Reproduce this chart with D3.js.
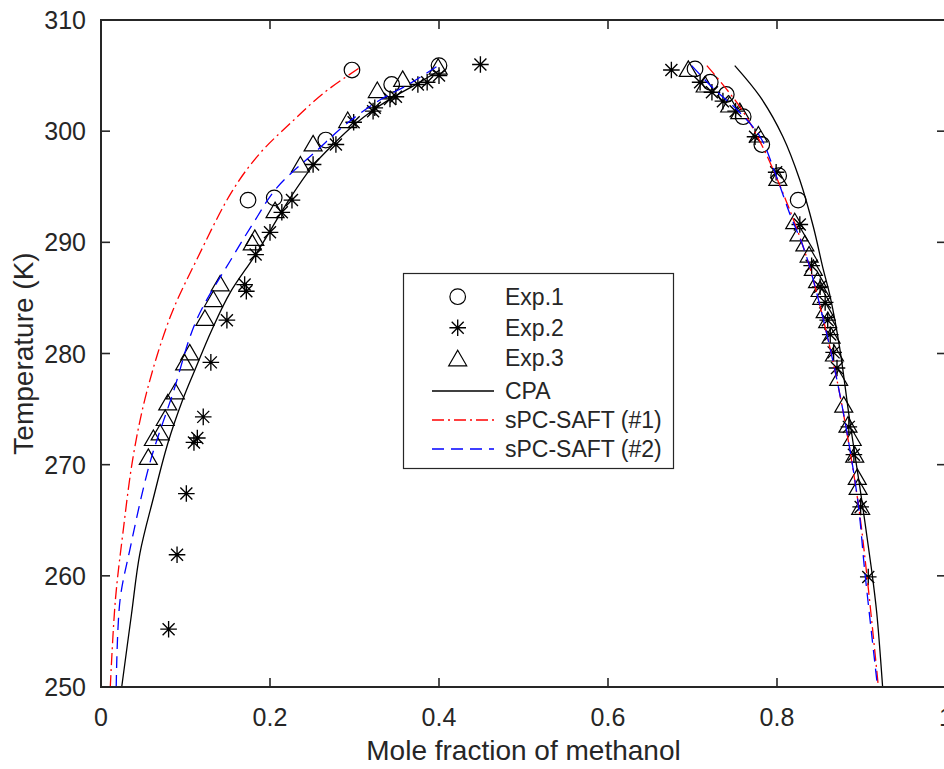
<!DOCTYPE html>
<html>
<head>
<meta charset="utf-8">
<script src="https://cdn.jsdelivr.net/npm/d3@7"></script>
<style>
  html, body { margin: 0; padding: 0; background: #fff; }
  svg { display: block; }
  text { font-family: "Liberation Sans", Arial, Helvetica, sans-serif; fill: #262626; }
</style>
</head>
<body>
<svg id="chart" width="944" height="769"></svg>
<script>
// ---------- data ----------
const xTicks = [0, 0.2, 0.4, 0.6, 0.8, 1];
const yTicks = [250, 260, 270, 280, 290, 300, 310];
const xLabel = "Mole fraction of methanol";
const yLabel = "Temperature (K)";
const legendLabels = ["Exp.1", "Exp.2", "Exp.3", "CPA", "sPC-SAFT (#1)", "sPC-SAFT (#2)"];

// Exp.1 (circles)
const exp1X = [0.297, 0.400, 0.344, 0.266, 0.174, 0.205, 0.703, 0.721, 0.740, 0.760, 0.782, 0.802, 0.825];
const exp1T = [305.5, 305.9, 304.2, 299.2, 293.8, 294.0, 305.6, 304.4, 303.3, 301.3, 298.8, 296.0, 293.8];

// Exp.2 (stars)
const exp2X = [0.449, 0.400, 0.386, 0.375, 0.349, 0.342, 0.324, 0.322, 0.299, 0.278, 0.251, 0.226, 0.214, 0.200, 0.183, 0.170, 0.172, 0.149, 0.130, 0.121, 0.114, 0.110, 0.101, 0.090, 0.080,
               0.675, 0.709, 0.723, 0.736, 0.751, 0.774, 0.799, 0.827, 0.841, 0.851, 0.857, 0.860, 0.863, 0.867, 0.871, 0.885, 0.891, 0.899, 0.908];
const exp2T = [306.0, 305.0, 304.4, 304.2, 303.1, 302.9, 302.1, 301.8, 300.8, 298.8, 297.0, 293.8, 292.7, 290.9, 288.9, 286.2, 285.6, 283.0, 279.2, 274.3, 272.4, 272.0, 267.4, 261.9, 255.2,
               305.5, 304.4, 303.5, 302.7, 301.8, 299.5, 296.3, 291.6, 287.9, 286.0, 284.6, 283.0, 281.7, 280.1, 278.7, 273.4, 270.9, 266.2, 259.9];

// Exp.3 (triangles)
const exp3X = [0.399, 0.357, 0.327, 0.292, 0.251, 0.236, 0.206, 0.182, 0.179, 0.141, 0.133, 0.123, 0.105, 0.099, 0.088, 0.079, 0.076, 0.070, 0.062, 0.056,
               0.695, 0.715, 0.744, 0.756, 0.778, 0.801, 0.821, 0.826, 0.833, 0.838, 0.843, 0.848, 0.851, 0.853, 0.857, 0.860, 0.864, 0.868, 0.873, 0.879, 0.884, 0.889, 0.892, 0.895, 0.896, 0.899];
const exp3T = [305.8, 304.7, 303.7, 301.0, 298.9, 297.0, 292.9, 290.4, 290.0, 286.3, 284.9, 283.2, 280.1, 279.2, 276.6, 275.6, 274.2, 272.9, 272.4, 270.7,
               305.6, 304.2, 302.4, 301.8, 299.7, 295.8, 291.9, 290.8, 289.9, 288.9, 287.7, 286.6, 285.8, 285.1, 283.9, 283.0, 281.6, 280.0, 277.8, 275.4, 273.6, 272.4, 270.9, 268.9, 268.0, 266.2];

// CPA (solid black)
const cpaLeftX  = [0.0245, 0.036, 0.046, 0.062, 0.079, 0.097, 0.111, 0.131, 0.153, 0.183, 0.224, 0.251, 0.276, 0.300, 0.324, 0.349, 0.375, 0.401];
const cpaLeftT  = [250.0, 256.5, 262.0, 267.0, 271.9, 275.9, 278.5, 282.1, 285.5, 288.9, 294.0, 296.9, 298.9, 300.6, 302.0, 303.2, 304.3, 305.5];
const cpaRightX = [0.750, 0.780, 0.807, 0.827, 0.843, 0.854, 0.863, 0.874, 0.886, 0.898, 0.912, 0.918, 0.925];
const cpaRightT = [305.9, 303.1, 299.5, 295.6, 291.4, 287.8, 285.1, 280.6, 274.0, 268.0, 260.5, 256.7, 250.0];

// sPC-SAFT (#1) (red dash-dot)
const saft1LeftX  = [0.011, 0.017, 0.026, 0.038, 0.054, 0.082, 0.113, 0.156, 0.188, 0.224, 0.263, 0.306];
const saft1LeftT  = [250.0, 257.8, 263.9, 270.7, 276.5, 283.3, 288.4, 294.7, 298.0, 300.7, 303.4, 305.7];
const saft1RightX = [0.717, 0.756, 0.783, 0.812, 0.831, 0.843, 0.871, 0.895, 0.906, 0.920];
const saft1RightT = [305.9, 302.2, 298.6, 293.5, 289.6, 286.6, 277.6, 267.1, 260.3, 250.0];

// sPC-SAFT (#2) (blue dashed)
const saft2LeftX  = [0.018, 0.0225, 0.034, 0.058, 0.085, 0.113, 0.155, 0.180, 0.208, 0.256, 0.291, 0.330, 0.366, 0.401];
const saft2LeftT  = [250.0, 257.8, 262.3, 270.2, 276.4, 283.0, 288.6, 291.7, 294.9, 298.3, 300.7, 302.8, 304.3, 306.0];
const saft2RightX = [0.699, 0.724, 0.753, 0.780, 0.798, 0.815, 0.831, 0.843, 0.871, 0.895, 0.904, 0.919];
const saft2RightT = [305.9, 303.9, 301.9, 299.5, 296.2, 292.6, 289.6, 286.6, 277.6, 267.1, 260.3, 250.0];

// ---------- layout ----------
const svg = d3.select("#chart");
const L = 101, R = 946, T = 20, B = 687;
const x = d3.scaleLinear().domain([0, 1]).range([L, R]);
const y = d3.scaleLinear().domain([250, 310]).range([B, T]);
const axisColor = "#262626";

svg.append("defs").append("clipPath").attr("id", "clip")
  .append("rect").attr("x", L).attr("y", T).attr("width", R - L).attr("height", B - T);

const zip = (a, b) => a.map((v, i) => [v, b[i]]);
const plot = svg.append("g").attr("clip-path", "url(#clip)");

// markers
function circleMark(g, cx, cy) {
  g.append("circle").attr("cx", cx).attr("cy", cy).attr("r", 7.8)
    .attr("fill", "none").attr("stroke", "#000").attr("stroke-width", 1.2);
}
function starMark(g, cx, cy) {
  const s = 8.3, d = 6.0;
  const p = `M${cx - s},${cy}L${cx + s},${cy}M${cx},${cy - s}L${cx},${cy + s}` +
            `M${cx - d},${cy - d}L${cx + d},${cy + d}M${cx - d},${cy + d}L${cx + d},${cy - d}`;
  g.append("path").attr("d", p).attr("fill", "none").attr("stroke", "#000").attr("stroke-width", 1.35);
}
function triMark(g, cx, cy) {
  const p = `M${cx},${cy - 8}L${cx + 9},${cy + 7.5}L${cx - 9},${cy + 7.5}Z`;
  g.append("path").attr("d", p).attr("fill", "none").attr("stroke", "#000").attr("stroke-width", 1.2);
}

const g1 = plot.append("g");
zip(exp1X, exp1T).forEach(d => circleMark(g1, x(d[0]), y(d[1])));
const g2 = plot.append("g");
zip(exp2X, exp2T).forEach(d => starMark(g2, x(d[0]), y(d[1])));
const g3 = plot.append("g");
zip(exp3X, exp3T).forEach(d => triMark(g3, x(d[0]), y(d[1])));

// curves
const line = d3.line().x(d => x(d[0])).y(d => y(d[1])).curve(d3.curveCatmullRom.alpha(0.5));
function drawCurve(xs, ts, color, dash) {
  plot.append("path").attr("d", line(zip(xs, ts)))
    .attr("fill", "none").attr("stroke", color).attr("stroke-width", 1.3)
    .attr("stroke-dasharray", dash);
}
drawCurve(cpaLeftX, cpaLeftT, "#000", null);
drawCurve(cpaRightX, cpaRightT, "#000", null);
drawCurve(saft1LeftX, saft1LeftT, "#ff0000", "12,4,2,4");
drawCurve(saft1RightX, saft1RightT, "#ff0000", "12,4,2,4");
drawCurve(saft2LeftX, saft2LeftT, "#0000ff", "12,7");
drawCurve(saft2RightX, saft2RightT, "#0000ff", "12,7");

// ---------- axes ----------
const ax = svg.append("g");
const tl = 9;
xTicks.forEach(t => {
  ax.append("line").attr("x1", x(t)).attr("x2", x(t)).attr("y1", B).attr("y2", B - tl)
    .attr("stroke", axisColor).attr("stroke-width", 1.6);
  ax.append("line").attr("x1", x(t)).attr("x2", x(t)).attr("y1", T).attr("y2", T + tl)
    .attr("stroke", axisColor).attr("stroke-width", 1.6);
  ax.append("text").attr("x", x(t)).attr("y", B + 39).attr("text-anchor", "middle")
    .attr("font-size", 25).text(d3.format("~g")(t));
});
yTicks.forEach(t => {
  ax.append("line").attr("x1", L).attr("x2", L + tl).attr("y1", y(t)).attr("y2", y(t))
    .attr("stroke", axisColor).attr("stroke-width", 1.6);
  ax.append("line").attr("x1", R).attr("x2", R - tl).attr("y1", y(t)).attr("y2", y(t))
    .attr("stroke", axisColor).attr("stroke-width", 1.6);
  ax.append("text").attr("x", L - 15).attr("y", y(t) + 9).attr("text-anchor", "end")
    .attr("font-size", 25).text(t);
});
ax.append("rect").attr("x", L).attr("y", T).attr("width", R - L).attr("height", B - T)
  .attr("fill", "none").attr("stroke", axisColor).attr("stroke-width", 2);

svg.append("text").attr("x", (L + R) / 2).attr("y", 760).attr("text-anchor", "middle")
  .attr("font-size", 28).text(xLabel);
svg.append("text").attr("transform", `translate(33,${(T + B) / 2}) rotate(-90)`)
  .attr("text-anchor", "middle").attr("font-size", 28).text(yLabel);

// ---------- legend ----------
const lg = svg.append("g");
lg.append("rect").attr("x", 403.5).attr("y", 273.5).attr("width", 270).attr("height", 195)
  .attr("fill", "#fff").attr("stroke", axisColor).attr("stroke-width", 1.2);
const rowsY = [296.7, 327.7, 358.3, 391, 420, 449];
const symX = 457.7;
circleMark(lg, symX, rowsY[0]);
starMark(lg, symX, rowsY[1]);
triMark(lg, symX, rowsY[2]);
[["#000", null], ["#ff0000", "12,4,2,4"], ["#0000ff", "12,7"]].forEach((s, i) => {
  lg.append("line").attr("x1", 432).attr("x2", 494).attr("y1", rowsY[3 + i]).attr("y2", rowsY[3 + i])
    .attr("stroke", s[0]).attr("stroke-width", 1.3).attr("stroke-dasharray", s[1]);
});
legendLabels.forEach((lab, i) => {
  lg.append("text").attr("x", 505).attr("y", rowsY[i] + 8).attr("font-size", 23).text(lab);
});
</script>
</body>
</html>
